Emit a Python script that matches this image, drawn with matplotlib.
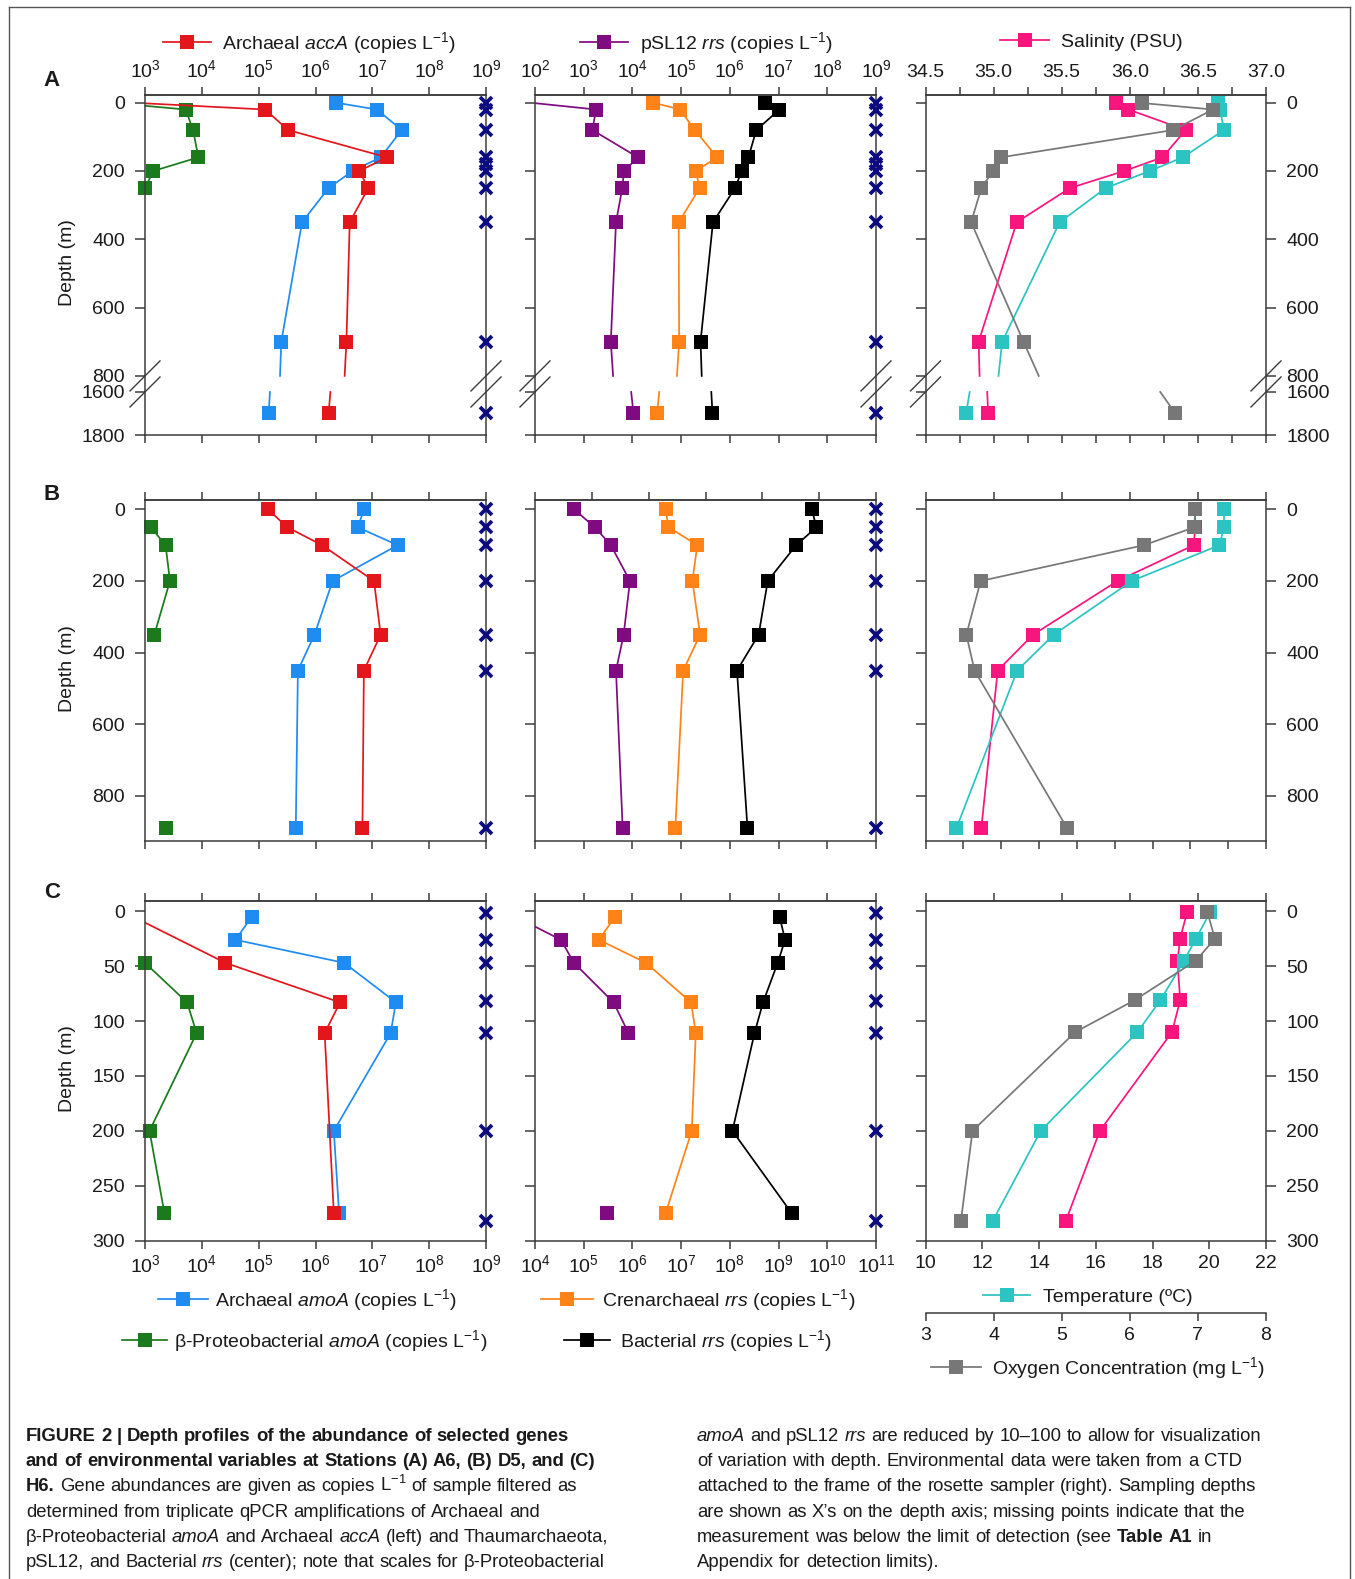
import numpy as np
import matplotlib
matplotlib.use("Agg")
import matplotlib.pyplot as plt
from matplotlib.lines import Line2D
from matplotlib.transforms import Affine2D, IdentityTransform
from matplotlib.ticker import FuncFormatter, NullLocator, NullFormatter

# ======================= DATA =======================
# ---- Station A6 (panel A), gene samples ----
A_depth = [0, 20, 80, 160, 200, 250, 350, 700, 1700]
A_arch_amoA = [2.3e6, 1.2e7, 3.3e7, 1.4e7, 4.5e6, 1.7e6, 5.8e5, 2.5e5, 1.5e5]
A_arch_accA = [6.0e2, 1.3e5, 3.3e5, 1.8e7, 5.9e6, 8.5e6, 4.0e6, 3.5e6, 1.7e6]
A_beta_amoA = [2.5e2, 5.2e3, 7.0e3, 8.7e3, 1.4e3, 1.0e3, np.nan, np.nan, np.nan]
A_psl12 = [8.0e1, 1.8e3, 1.5e3, 1.3e4, 6.7e3, 6.2e3, 4.6e3, 3.6e3, 1.05e4]
A_cren = [2.7e4, 9.5e4, 1.9e5, 5.5e5, 2.0e5, 2.4e5, 8.9e4, 9.1e4, 3.2e4]
A_bact = [5.2e6, 1.04e7, 3.5e6, 2.4e6, 1.75e6, 1.28e6, 4.5e5, 2.5e5, 4.4e5]
# CTD
A_ctd_depth = [1, 20, 80, 160, 200, 250, 350, 700, 1700]
A_sal = [35.90, 35.99, 36.41, 36.24, 35.96, 35.56, 35.17, 34.89, 34.96]
A_temp = [20.30, 20.38, 20.52, 19.07, 17.90, 16.35, 14.73, 12.70, 11.43]
A_oxy = [6.18, 7.22, 6.64, 4.11, 3.99, 3.82, 3.67, 4.44, 6.67]
A_sampling = [2, 20, 80, 158, 180, 200, 250, 350, 700, 1700]

# ---- Station D5 (panel B) ----
B_depth = [0, 50, 100, 200, 350, 450, 890]
B_arch_amoA = [7.2e6, 5.5e6, 2.8e7, 2.0e6, 9.6e5, 4.9e5, 4.5e5]
B_arch_accA = [1.45e5, 3.2e5, 1.3e6, 1.07e7, 1.4e7, 7.1e6, 6.7e6]
B_beta_amoA = [np.nan, 1.26e3, 2.3e3, 2.75e3, 1.46e3, np.nan, 2.3e3]
B_psl12 = [6.3e2, 1.7e3, 3.6e3, 8.9e3, 6.6e3, 4.6e3, 6.3e3]
B_cren = [4.8e4, 5.5e4, 2.15e5, 1.7e5, 2.45e5, 1.1e5, 7.6e4]
B_bact = [4.8e7, 6.0e7, 2.3e7, 6.0e6, 3.9e6, 1.4e6, 2.3e6]
B_ctd_depth = [0, 50, 100, 200, 350, 450, 890]
B_sal = [36.48, 36.48, 36.47, 35.91, 35.29, 35.03, 34.91]
B_temp = [20.52, 20.52, 20.36, 17.27, 14.52, 13.23, 11.09]
B_oxy = [6.96, 6.95, 6.21, 3.81, 3.60, 3.72, 5.08]
B_sampling = [0, 50, 100, 200, 350, 450, 890]

# ---- Station H6 (panel C) ----
C_depth = [5, 26, 47, 83, 111, 200, 275]
C_arch_amoA = [7.6e4, 3.9e4, 3.2e6, 2.6e7, 2.1e7, 2.1e6, 2.6e6]
C_accA_depth = [5, 47, 83, 111, 275]
C_arch_accA = [6.2e2, 2.6e4, 2.7e6, 1.45e6, 2.1e6]
C_beta_amoA = [np.nan, np.nan, 1.0e3, 5.5e3, 8.1e3, 1.2e3, 2.2e3]
C_psl12 = [4.0e3, 3.4e4, 6.3e4, 4.1e5, 8.3e5, np.nan, 3.0e5]
C_cren = [4.4e5, 2.05e5, 1.9e6, 1.6e7, 2.0e7, 1.65e7, 4.8e6]
C_bact = [1.05e9, 1.36e9, 9.6e8, 4.8e8, 3.2e8, 1.13e8, 1.86e9]
C_ctd_depth = [1, 25, 45, 81, 110, 200, 282]
C_sal = [36.42, 36.37, 36.35, 36.37, 36.31, 35.78, 35.53]
C_temp = [20.03, 19.53, 19.11, 18.28, 17.47, 14.06, 12.37]
C_oxy = [7.14, 7.25, 6.97, 6.07, 5.20, 3.69, 3.52]
C_sampling = [2, 26, 47, 82, 111, 200, 282]

# tick values / labels
A_depth_ticks = [0, 200, 400, 600, 800, 1600, 1800]
B_depth_ticks = [0, 200, 400, 600, 800]
C_depth_ticks = [0, 50, 100, 150, 200, 250, 300]
sal_ticks = [34.5, 35.0, 35.5, 36.0, 36.5, 37.0]
temp_ticks = [10, 12, 14, 16, 18, 20, 22]
oxy_ticks = [3, 4, 5, 6, 7, 8]

# ======================= STYLE =======================
plt.rcParams['font.family'] = ['Liberation Sans', 'DejaVu Sans']
plt.rcParams['mathtext.fontset'] = 'custom'
plt.rcParams['mathtext.rm'] = 'Liberation Sans'
plt.rcParams['mathtext.it'] = 'Liberation Sans:italic'
plt.rcParams['mathtext.bf'] = 'Liberation Sans:bold'

C_AMOA = '#1e8cf0'
C_ACCA = '#e3161c'
C_BETA = '#1b7a1b'
C_PSL = '#800a80'
C_CREN = '#ff8316'
C_BACT = '#000000'
C_SAL = '#f8157e'
C_TEMP = '#2cc3c3'
C_OXY = '#777777'
C_X = '#0c0c80'
SPINE = '#3c3c3c'
TXT = '#1a1a1a'
FS = 14
LW = 1.25
MS = 9.8

W, H = 1355, 1579
fig = plt.figure(figsize=(W / 100, H / 100), dpi=100, facecolor='white')
PX = Affine2D().scale(1.0 / W, -1.0 / H).translate(0, 1) + fig.transFigure


def px_axes(x0, y0, x1, y1):
    return fig.add_axes([x0 / W, 1 - y1 / H, (x1 - x0) / W, (y1 - y0) / H])


# broken depth scale for panel A
BRK_LO, BRK_HI = 800.0, 1600.0
GAP = 47.0
K_DEEP = 0.63


def fwd(d):
    d = np.asarray(d, float)
    return np.where(d <= BRK_LO, d,
                    np.where(d >= BRK_HI, BRK_LO + GAP + (d - BRK_HI) * K_DEEP,
                             BRK_LO + (d - BRK_LO) * GAP / (BRK_HI - BRK_LO)))


def inv(y):
    y = np.asarray(y, float)
    return np.where(y <= BRK_LO, y,
                    np.where(y >= BRK_LO + GAP, BRK_HI + (y - BRK_LO - GAP) / K_DEEP,
                             BRK_LO + (y - BRK_LO) * (BRK_HI - BRK_LO) / GAP))


def split_at_break(depths, values, log):
    xs, ys = [], []
    for i in range(len(depths)):
        if i > 0 and depths[i - 1] <= BRK_LO and depths[i] >= BRK_HI:
            v0, v1 = values[i - 1], values[i]
            if np.isfinite(v0) and np.isfinite(v1):
                a = np.log10(v0) if log else v0
                b = np.log10(v1) if log else v1
                d0, d1 = depths[i - 1], depths[i]
                pa = a + (b - a) * (BRK_LO - d0) / (d1 - d0)
                pb = a + (b - a) * (BRK_HI - d0) / (d1 - d0)
                if log:
                    pa, pb = 10 ** pa, 10 ** pb
                xs += [pa, np.nan, pb]
                ys += [BRK_LO, np.nan, BRK_HI]
        xs.append(values[i])
        ys.append(depths[i])
    return np.array(xs), np.array(ys)


def plot_series(ax, depths, values, color, z, log=True, broken=False):
    d = np.asarray(depths, float)
    v = np.asarray(values, float)
    if broken:
        lx, ly = split_at_break(d, v, log)
    else:
        lx, ly = v, d
    ax.plot(lx, ly, '-', color=color, lw=LW, zorder=z)
    lo, hi = ax.get_xlim()
    vis = np.isfinite(v) & (v >= lo * 0.999) & (v <= hi * 1.001)
    ax.plot(v[vis], d[vis], 's', ls='none', color=color, ms=MS, mew=0,
            zorder=z + 0.05, clip_on=False)


def sample_marks(ax, depths):
    x = ax.get_xlim()[1]
    ax.plot(np.full(len(depths), x), depths, 'x', ls='none', color=C_X, ms=9,
            mew=2.7, clip_on=False, zorder=8)


def style(ax):
    for s in ax.spines.values():
        s.set_color(SPINE)
        s.set_linewidth(1.1)
    ax.tick_params(axis='both', which='both', direction='out', color=SPINE, width=1.1,
                   labelcolor=TXT, labelsize=FS)
    ax.tick_params(axis='x', length=6, pad=4)
    ax.tick_params(axis='y', length=7.5, pad=7)


LOGFMT = FuncFormatter(lambda v, p: r'$10^{%d}$' % int(round(np.log10(v))))


def setup_x(ax, top_ticks, top_fmt, bot_ticks, bot_fmt, log):
    ax.xaxis.set_ticks_position('bottom')
    ax.set_xticks(bot_ticks)
    ax.xaxis.set_minor_locator(NullLocator())
    ax.xaxis.set_major_formatter(bot_fmt if bot_fmt is not None else NullFormatter())
    sec = ax.secondary_xaxis('top')
    sec.set_xticks(top_ticks)
    sec.xaxis.set_minor_locator(NullLocator())
    sec.xaxis.set_major_formatter(top_fmt if top_fmt is not None else NullFormatter())
    sec.spines['top'].set_color(SPINE)
    sec.spines['top'].set_linewidth(1.1)
    sec.tick_params(axis='x', direction='out', color=SPINE, width=1.1, length=6, pad=4,
                    labelcolor=TXT, labelsize=FS)
    return sec


def setup_y(ax, kind, ylim, ticks, labels, side):
    if kind == 'broken':
        ax.set_yscale('function', functions=(fwd, inv))
    ax.set_ylim(*ylim)
    ax.set_yticks(ticks)
    ax.yaxis.set_minor_locator(NullLocator())
    if side == 'left':
        ax.yaxis.set_ticks_position('left')
        ax.set_yticklabels([str(t) for t in labels])
    elif side == 'none':
        ax.yaxis.set_ticks_position('left')
        ax.set_yticklabels([])
    else:
        ax.yaxis.set_ticks_position('both')
        ax.tick_params(axis='y', labelleft=False, labelright=True)
        ax.set_yticklabels([str(t) for t in labels])


def break_marks(ax):
    tr = ax.get_yaxis_transform()
    for xa in (0.0, 1.0):
        for d in (BRK_LO, BRK_HI):
            xd, yd = tr.transform((xa, d))
            fig.add_artist(Line2D([xd - 15, xd + 15], [yd - 15, yd + 15],
                                  transform=IdentityTransform(), color=SPINE, lw=1.0))


COLS = {'L': (145, 486), 'M': (535, 876), 'R': (925.5, 1266)}
ROWS = {'A': (95, 435), 'B': (500, 840.7), 'C': (900.7, 1240.7)}
LETTER_Y = {'A': 80, 'B': 494, 'C': 892}
YSPEC = {
    'A': ('broken', (1800, -22.5), A_depth_ticks),
    'B': ('linear', (925, -26), B_depth_ticks),
    'C': ('linear', (300, -9.6), C_depth_ticks),
}

dec = lambda a, b: [10.0 ** e for e in range(a, b + 1)]

GENES = {
    'A': (A_depth, A_arch_amoA, A_depth, A_arch_accA, A_beta_amoA, A_psl12, A_cren, A_bact, A_sampling),
    'B': (B_depth, B_arch_amoA, B_depth, B_arch_accA, B_beta_amoA, B_psl12, B_cren, B_bact, B_sampling),
    'C': (C_depth, C_arch_amoA, C_accA_depth, C_arch_accA, C_beta_amoA, C_psl12, C_cren, C_bact, C_sampling),
}
CTD = {
    'A': (A_ctd_depth, A_sal, A_temp, A_oxy),
    'B': (B_ctd_depth, B_sal, B_temp, B_oxy),
    'C': (C_ctd_depth, C_sal, C_temp, C_oxy),
}
MID_LIM = {'A': (1e2, 1e9), 'B': (1e2, 1e9), 'C': (1e4, 1e11)}

for row in ('A', 'B', 'C'):
    y0, y1 = ROWS[row]
    kind, ylim, yt = YSPEC[row]
    broken = kind == 'broken'
    dep, amoA, accdep, accA, beta, psl, cren, bact, samp = GENES[row]

    # ---------- left: amoA / accA ----------
    axL = px_axes(COLS['L'][0], y0, COLS['L'][1], y1)
    axL.set_xscale('log')
    axL.set_xlim(1e3, 1e9)
    setup_y(axL, kind, ylim, yt, yt, 'left')
    style(axL)
    setup_x(axL, dec(3, 9), LOGFMT if row == 'A' else None,
            dec(3, 9), LOGFMT if row == 'C' else None, True)
    plot_series(axL, dep, beta, C_BETA, 2.0, broken=broken)
    plot_series(axL, dep, amoA, C_AMOA, 2.2, broken=broken)
    plot_series(axL, accdep, accA, C_ACCA, 2.4, broken=broken)
    sample_marks(axL, samp)

    # ---------- middle: rrs ----------
    axM = px_axes(COLS['M'][0], y0, COLS['M'][1], y1)
    axM.set_xscale('log')
    lo, hi = MID_LIM[row]
    axM.set_xlim(lo, hi)
    setup_y(axM, kind, ylim, yt, yt, 'none')
    style(axM)
    elo, ehi = int(np.log10(lo)), int(np.log10(hi))
    if row == 'B':
        top = list(10 ** np.linspace(elo, ehi, 7))
    else:
        top = dec(elo, ehi)
    setup_x(axM, top, LOGFMT if row == 'A' else None,
            dec(elo, ehi), LOGFMT if row == 'C' else None, True)
    plot_series(axM, dep, psl, C_PSL, 2.0, broken=broken)
    plot_series(axM, dep, cren, C_CREN, 2.2, broken=broken)
    plot_series(axM, dep, bact, C_BACT, 2.4, broken=broken)
    sample_marks(axM, samp)

    # ---------- right: CTD ----------
    cdep, sal, temp, oxy = CTD[row]
    axR = px_axes(COLS['R'][0], y0, COLS['R'][1], y1)
    axR.set_xlim(34.5, 37.0)
    setup_y(axR, kind, ylim, yt, yt, 'right')
    style(axR)
    axT = axR.twiny()
    axO = axR.twiny()
    axT.set_xlim(10, 22)
    axO.set_xlim(3, 8)
    if row == 'A':
        q = list(np.arange(34.5, 37.01, 0.25))
        salfmt = FuncFormatter(lambda v, p: ('%.1f' % v) if abs(v * 2 - round(v * 2)) < 1e-6 else '')
        setup_x(axR, q, salfmt, q, None, False)
    elif row == 'B':
        setup_x(axR, sal_ticks, None, list(np.linspace(34.5, 37.0, 10)), None, False)
    else:
        setup_x(axR, sal_ticks, None, [], None, False)
    for tw in (axT, axO):
        for s in tw.spines.values():
            s.set_visible(False)
        tw.set_xticks([])
    if row == 'C':
        axT.xaxis.set_ticks_position('bottom')
        axT.set_xticks(temp_ticks)
        axT.set_xticklabels([str(t) for t in temp_ticks])
        axT.tick_params(axis='x', direction='out', color=SPINE, width=1.1, length=6, pad=4,
                        labelcolor=TXT, labelsize=FS)
        axO.xaxis.set_ticks_position('bottom')
        axO.spines['bottom'].set_visible(True)
        axO.spines['bottom'].set_position(('outward', 51.8))
        axO.spines['bottom'].set_color(SPINE)
        axO.spines['bottom'].set_linewidth(1.1)
        axO.set_xticks(oxy_ticks)
        axO.set_xticklabels([str(t) for t in oxy_ticks])
        axO.tick_params(axis='x', direction='out', color=SPINE, width=1.1, length=6, pad=4,
                        labelcolor=TXT, labelsize=FS)
    plot_series(axR, cdep, sal, C_SAL, 2.0, log=False, broken=broken)
    plot_series(axT, cdep, temp, C_TEMP, 2.0, log=False, broken=broken)
    plot_series(axO, cdep, oxy, C_OXY, 2.0, log=False, broken=broken)

    if broken:
        for a in (axL, axM, axR):
            break_marks(a)

    # panel letter and depth label
    fig.text(52, LETTER_Y[row], row, transform=PX, fontsize=16, fontweight='bold',
             ha='center', va='center', color=TXT)
    fig.text(67, (y0 + y1) / 2 - 2, 'Depth (m)', transform=PX, fontsize=FS, rotation=90,
             ha='center', va='center', color=TXT)


# ======================= LEGENDS =======================
def legend_item(x0, x1, y, color, text, tx):
    fig.add_artist(Line2D([x0, x1], [y, y], transform=PX, color=color, lw=LW))
    fig.add_artist(Line2D([(x0 + x1) / 2], [y], transform=PX, color=color, marker='s',
                          ms=MS, mew=0, ls='none'))
    fig.text(tx, y + 7, text, transform=PX, fontsize=FS, ha='left', va='baseline', color=TXT)


legend_item(163, 211, 42, C_ACCA, r'Archaeal $\mathit{accA}$ (copies L$^{-1}$)', 222)
legend_item(580, 628, 42, C_PSL, r'pSL12 $\mathit{rrs}$ (copies L$^{-1}$)', 640)
legend_item(1000, 1049, 40, C_SAL, 'Salinity (PSU)', 1061)
legend_item(158, 208, 1299, C_AMOA, r'Archaeal $\mathit{amoA}$ (copies L$^{-1}$)', 215)
legend_item(122, 167, 1340, C_BETA, r'β-Proteobacterial $\mathit{amoA}$ (copies L$^{-1}$)', 174)
legend_item(541, 593, 1299, C_CREN, r'Crenarchaeal $\mathit{rrs}$ (copies L$^{-1}$)', 602)
legend_item(564, 610, 1340, C_BACT, r'Bacterial $\mathit{rrs}$ (copies L$^{-1}$)', 620)
legend_item(983, 1030, 1295, C_TEMP, 'Temperature (ºC)', 1043)
legend_item(931, 981, 1367, C_OXY, r'Oxygen Concentration (mg L$^{-1}$)', 992)

# ======================= FRAME =======================
for xs_, ys_ in (([9, 1350], [7, 7]), ([9, 9], [7, 1579]), ([1350, 1350], [7, 1579])):
    fig.add_artist(Line2D(xs_, ys_, transform=PX, color='#555555', lw=1.0))

# ======================= CAPTION =======================
CAP_LEFT = [
    [("FIGURE 2 | Depth profiles of the abundance of selected genes", 'b')],
    [("and of environmental variables at Stations (A) A6, (B) D5, and (C)", 'b')],
    [("H6.", 'b'), ("Gene abundances are given as copies L$^{-1}$ of sample filtered as", 'n')],
    [("determined from triplicate qPCR amplifications of Archaeal and", 'n')],
    [("β-Proteobacterial", 'n'), ("amoA", 'i'), ("and Archaeal", 'n'), ("accA", 'i'),
     ("(left) and Thaumarchaeota,", 'n')],
    [("pSL12, and Bacterial", 'n'), ("rrs", 'i'), ("(center); note that scales for β-Proteobacterial", 'n')],
]
CAP_RIGHT = [
    [("amoA", 'i'), ("and pSL12", 'n'), ("rrs", 'i'), ("are reduced by 10–100 to allow for visualization", 'n')],
    [("of variation with depth. Environmental data were taken from a CTD", 'n')],
    [("attached to the frame of the rosette sampler (right). Sampling depths", 'n')],
    [("are shown as X’s on the depth axis; missing points indicate that the", 'n')],
    [("measurement was below the limit of detection (see", 'n'), ("Table A1", 'b'), ("in", 'n')],
    [("Appendix for detection limits).", 'n')],
]
CAP_FS = 13.3
renderer = fig.canvas.get_renderer()
space = 0.278 * CAP_FS * 100 / 72


def draw_runs(x0, y, runs):
    x = x0
    for text, st in runs:
        for w in text.split(' '):
            if not w:
                continue
            t = fig.text(x, y, w, transform=PX, fontsize=CAP_FS, color=TXT, ha='left', va='baseline',
                         fontweight='bold' if st == 'b' else 'normal',
                         fontstyle='italic' if st == 'i' else 'normal')
            x += t.get_window_extent(renderer).width + space


for i, runs in enumerate(CAP_LEFT):
    draw_runs(26, 1441 + 25.2 * i, runs)
for i, runs in enumerate(CAP_RIGHT):
    draw_runs(697, 1441 + 25.2 * i, runs)

fig.savefig('out.png', dpi=100, facecolor='white')
